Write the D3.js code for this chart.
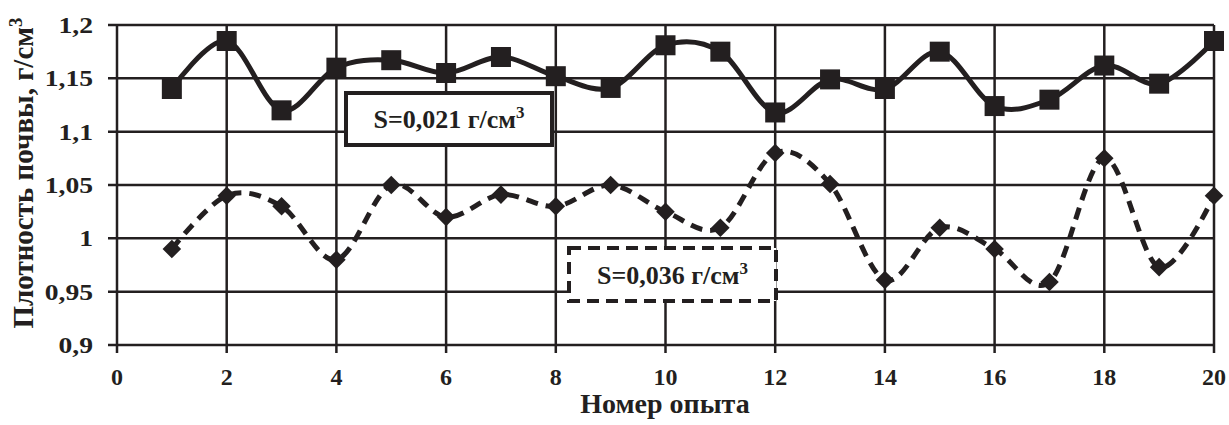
<!DOCTYPE html>
<html>
<head>
<meta charset="utf-8">
<title>Плотность почвы</title>
<style>
  body { margin: 0; background: #fff; }
  text { font-family: "Liberation Serif", "Times New Roman", serif; font-weight: bold; fill: #231f20; }
</style>
</head>
<body>
<svg width="1229" height="425"></svg>
<script src="https://d3js.org/d3.v7.min.js"></script>
<script>
// номер опыта
var trials = d3.range(1, 21);
// плотность, сплошная линия (квадраты)
var densityA = [1.14, 1.185, 1.12, 1.16, 1.167, 1.155, 1.17, 1.152, 1.141, 1.181,
                1.175, 1.118, 1.149, 1.14, 1.175, 1.124, 1.13, 1.162, 1.145, 1.185];
// плотность, пунктир (ромбы)
var densityB = [0.99, 1.04, 1.03, 0.98, 1.05, 1.02, 1.041, 1.03, 1.05, 1.025,
                1.01, 1.08, 1.051, 0.961, 1.01, 0.99, 0.959, 1.075, 0.973, 1.04];
var xTicks = [0, 2, 4, 6, 8, 10, 12, 14, 16, 18, 20];
var yTicks = [0.9, 0.95, 1, 1.05, 1.1, 1.15, 1.2];
var labelA = "S=0,021 г/см";
var labelB = "S=0,036 г/см";

var ink = "#231f20";
var svg = d3.select("svg");
var x = d3.scaleLinear().domain([0, 20]).range([117, 1214]);
var y = d3.scaleLinear().domain([0.9, 1.2]).range([345, 25]);
var fmt = function(d) { return String(d).replace(".", ","); };

// сетка
svg.append("g").selectAll("line").data(yTicks).enter().append("line")
    .attr("x1", x(0) - 9).attr("x2", x(20))
    .attr("y1", function(d) { return y(d); }).attr("y2", function(d) { return y(d); })
    .attr("stroke", ink).attr("stroke-width", 2.5);
svg.append("g").selectAll("line").data(xTicks).enter().append("line")
    .attr("x1", function(d) { return x(d); }).attr("x2", function(d) { return x(d); })
    .attr("y1", y(1.2)).attr("y2", y(0.9) + 8)
    .attr("stroke", ink).attr("stroke-width", 2.5);

// подписи осей
svg.append("g").selectAll("text").data(yTicks).enter().append("text")
    .attr("transform", function(d) { return "translate(93," + (y(d) + 8) + ") scale(1.15,1)"; })
    .attr("text-anchor", "end").attr("font-size", 24)
    .text(fmt);
svg.append("g").selectAll("text").data(xTicks).enter().append("text")
    .attr("x", function(d) { return x(d); }).attr("y", 385)
    .attr("text-anchor", "middle").attr("font-size", 24)
    .text(fmt);

svg.append("text").attr("x", 665).attr("y", 413)
    .attr("text-anchor", "middle").attr("font-size", 28)
    .text("Номер опыта");
var yt = svg.append("text")
    .attr("transform", "translate(33,173) rotate(-90)")
    .attr("text-anchor", "middle").attr("font-size", 29);
yt.append("tspan").text("Плотность почвы, г/см");
yt.append("tspan").attr("dy", -11).attr("font-size", 19).text("3");

// линии
var line = d3.line()
    .x(function(d, i) { return x(trials[i]); })
    .y(function(d) { return y(d); })
    .curve(d3.curveCatmullRom.alpha(0));

svg.append("path").datum(densityA).attr("d", line)
    .attr("fill", "none").attr("stroke", ink).attr("stroke-width", 5);
svg.append("path").datum(densityB).attr("d", line)
    .attr("fill", "none").attr("stroke", ink).attr("stroke-width", 5)
    .attr("stroke-dasharray", "12,8");

svg.append("g").selectAll("rect").data(densityA).enter().append("rect")
    .attr("x", function(d, i) { return x(trials[i]) - 10; })
    .attr("y", function(d) { return y(d) - 10; })
    .attr("width", 20).attr("height", 20).attr("fill", ink);
svg.append("g").selectAll("path").data(densityB).enter().append("path")
    .attr("d", d3.symbol(d3.symbolDiamond2, 220))
    .attr("transform", function(d, i) { return "translate(" + x(trials[i]) + "," + y(d) + ")"; })
    .attr("fill", ink);

// подписи с рамками
function box(x0, y0, w, h, dashed, label) {
  var r = svg.append("rect").attr("x", x0).attr("y", y0).attr("width", w).attr("height", h)
      .attr("fill", "#fff").attr("stroke", ink).attr("stroke-width", 4);
  if (dashed) r.attr("stroke-dasharray", "12,7");
  var t = svg.append("text").attr("x", x0 + w / 2).attr("y", y0 + h / 2 + 9)
      .attr("text-anchor", "middle").attr("font-size", 26);
  t.append("tspan").text(label);
  t.append("tspan").attr("dy", -10).attr("font-size", 17).text("3");
}
box(346, 93, 206, 52, false, labelA);
box(569, 248, 207, 53, true, labelB);
</script>
</body>
</html>
